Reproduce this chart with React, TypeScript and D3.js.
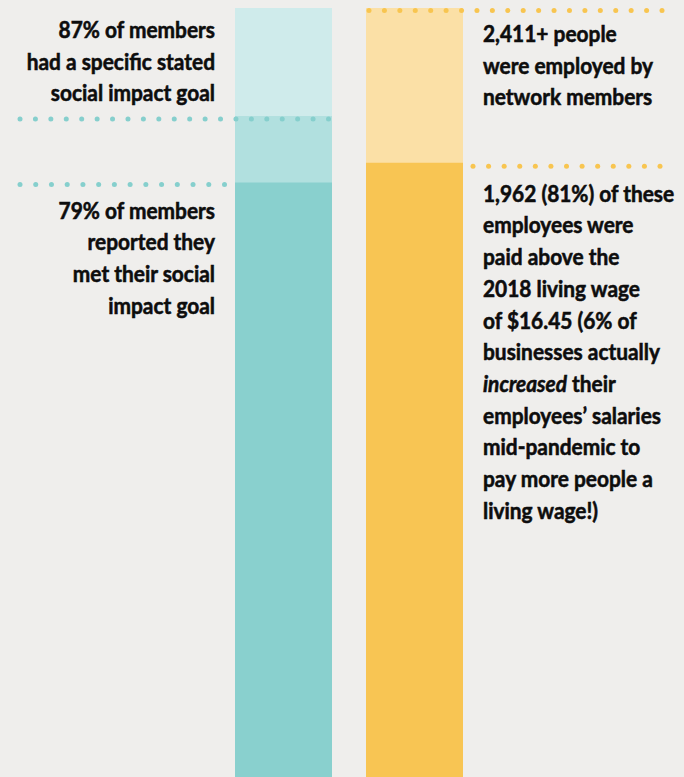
import React from "react";
import * as d3 from "d3";

const W = 684;
const H = 777;

// Data
const barCategories = ["members", "employees"];
const memberValues = [100, 87, 79]; // percent of members: total, stated goal, met goal
const employeeValues = [2411, 1962]; // people employed, paid above living wage

const memberLabel1 = ["87% of members", "had a specific stated", "social impact goal"];
const memberLabel2 = ["79% of members", "reported they", "met their social", "impact goal"];
const employeeLabel1 = ["2,411+ people", "were employed by", "network members"];
const employeeLabel2: (string | { italic: string; rest: string })[] = [
  "1,962 (81%) of these",
  "employees were",
  "paid above the",
  "2018 living wage",
  "of $16.45 (6% of",
  "businesses actually",
  { italic: "increased", rest: " their" },
  "employees\u2019 salaries",
  "mid-pandemic to",
  "pay more people a",
  "living wage!)",
];

const BG = "#efeeec";
const tealShades = ["#cfebeb", "#b1e0df", "#89d0ce"];
const yellowShades = ["#fbe0a6", "#f8c553"];
const tealDot = "#86cfcd";
const yellowDot = "#f8c550";
const FONT = "Lato, 'Open Sans', sans-serif";
const INK = "#0d0d0d";

function dots(x0: number, x1: number, y: number, color: string, key: string, n: number) {
  const xs = d3.range(n + 1).map((i) => x0 + (i * (x1 - x0)) / n);
  return xs.map((x, i) => <circle key={key + i} cx={x} cy={y} r={2.5} fill={color} />);
}

export default function App() {
  const x = d3.scaleBand<string>().domain(barCategories).range([235, 463]).paddingInner(0.2595).paddingOuter(0);
  const yM = d3.scaleLinear().domain([0, 100]).range([839, 8]);
  const yE = d3.scaleLinear().domain([0, employeeValues[0]]).range([839, 8]);
  const bw = x.bandwidth();
  const xm = x("members")!;
  const xe = x("employees")!;
  const lh = 31.7;
  const fs = 22;
  const sx = 0.95;

  const textStyle = {
    fontFamily: FONT,
    fontWeight: 700,
    fontSize: fs,
    fill: INK,
    stroke: INK,
    strokeWidth: 0.55,
  } as const;

  const leftX = xm - 20;
  const rightX = xe + bw + 20;

  return (
    <svg width={W} height={H} style={{ position: "absolute", left: 0, top: 0, display: "block" }}>
      <rect x={0} y={0} width={W} height={H} fill={BG} />
      {memberValues.map((v, i) => (
        <rect key={"m" + i} x={xm} y={yM(v)} width={bw} height={yM(0) - yM(v)} fill={tealShades[i]} />
      ))}
      {employeeValues.map((v, i) => (
        <rect key={"e" + i} x={xe} y={yE(v)} width={bw} height={yE(0) - yE(v)} fill={yellowShades[i]} />
      ))}

      {dots(20, xm + bw - 3.5, yM(memberValues[1]) + 3, tealDot, "d1", 20)}
      {dots(20, xm - 10.5, yM(memberValues[2]) + 2, tealDot, "d2", 13)}
      {dots(xe + 3, rightX + 179, yE(employeeValues[0]) + 2.5, yellowDot, "d3", 19)}
      {dots(rightX - 10, rightX + 177, yE(employeeValues[1]) + 3.5, yellowDot, "d4", 12)}

      <g transform={`translate(${leftX},0) scale(${sx},1)`}>
        <text {...textStyle} textAnchor="end">
          {memberLabel1.map((t, i) => (
            <tspan key={i} x={0} y={yM(memberValues[0]) + 30 + i * lh}>
              {t}
            </tspan>
          ))}
        </text>
        <text {...textStyle} textAnchor="end">
          {memberLabel2.map((t, i) => (
            <tspan key={i} x={0} y={yM(memberValues[2]) + 36 + i * lh}>
              {t}
            </tspan>
          ))}
        </text>
      </g>
      <g transform={`translate(${rightX},0) scale(${sx},1)`}>
        <text {...textStyle}>
          {employeeLabel1.map((t, i) => (
            <tspan key={i} x={0} y={yE(employeeValues[0]) + 34 + i * lh}>
              {t}
            </tspan>
          ))}
        </text>
        <text {...textStyle}>
          {employeeLabel2.map((t, i) =>
            typeof t === "string" ? (
              <tspan key={i} x={0} y={yE(employeeValues[1]) + 39 + i * lh}>
                {t}
              </tspan>
            ) : (
              <tspan key={i} x={0} y={yE(employeeValues[1]) + 39 + i * lh}>
                <tspan fontStyle="italic" fontWeight={700}>{t.italic}</tspan>
                <tspan>{t.rest}</tspan>
              </tspan>
            )
          )}
        </text>
      </g>
    </svg>
  );
}
